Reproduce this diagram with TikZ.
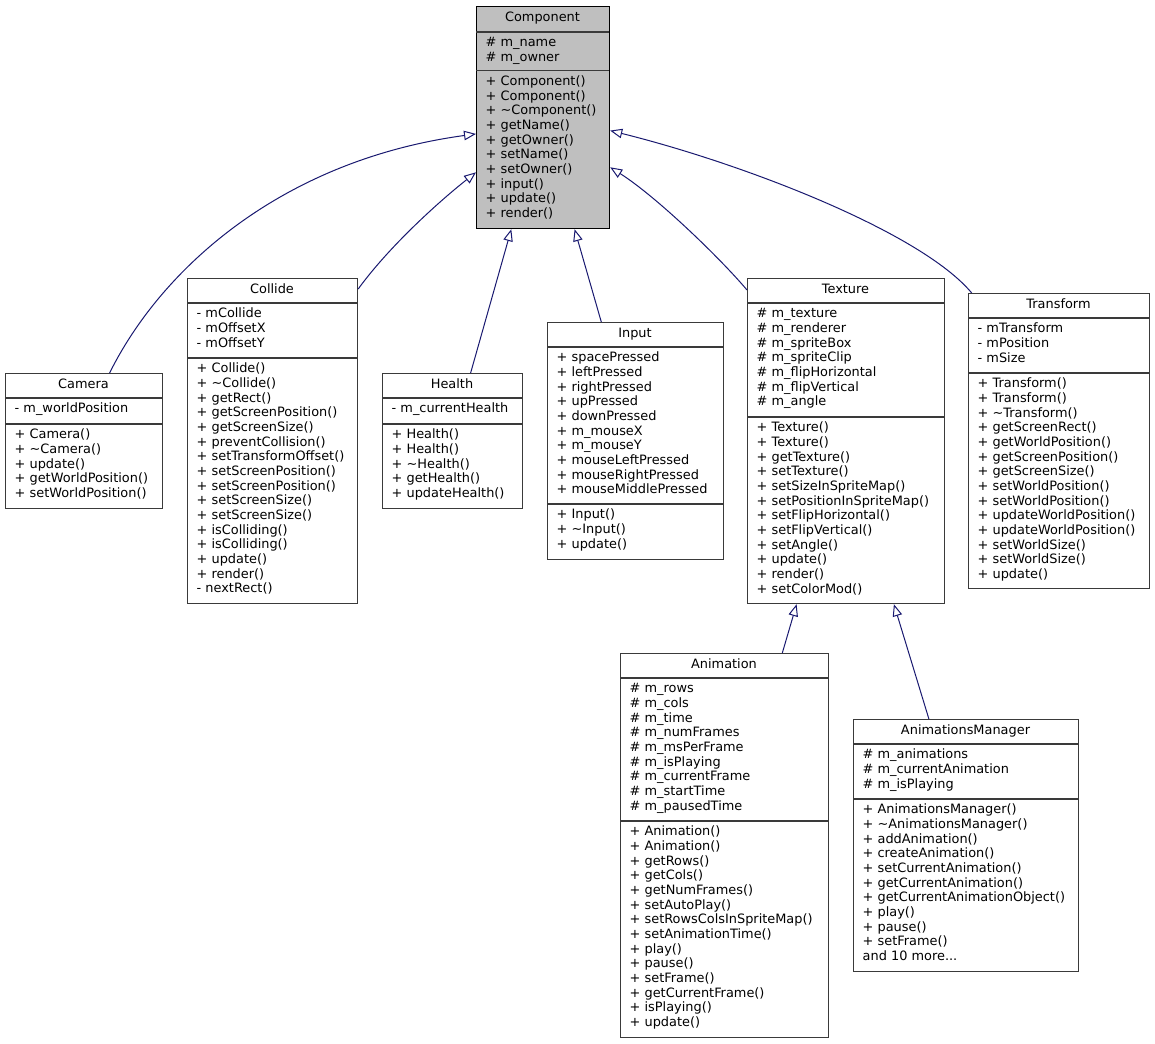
\documentclass[tikz,border=0pt]{standalone}
\usepackage{fontspec}
\setmainfont{DejaVu Sans}
\usetikzlibrary{arrows.meta}
\definecolor{edgeblue}{HTML}{191970}
\definecolor{boxline}{HTML}{3A3A3A}
\definecolor{compfill}{HTML}{BFBFBF}
\tikzset{
  classbox/.style={draw=boxline, line width=1.2pt, fill=white, inner sep=0pt, anchor=north west},
  sepline/.style={draw=boxline, line width=1.2pt},
  titletext/.style={anchor=base, inner sep=0pt, font=\fontsize{12.9}{14.67}\selectfont},
  sectext/.style={anchor=north west, inner sep=0pt, align=left, font=\fontsize{12.9}{14.67}\selectfont},
  inherit/.style={draw=edgeblue, line width=1pt, -{Triangle[open, length=12pt, width=9.5pt]}}
}
% #1 extra style, #2 name, #3 x1, #4 y1, #5 x2, #6 y2, #7 sep1, #8 sep2, #9 title
\newcommand{\umlbox}[9]{%
  \node[classbox,#1,minimum width={#5-#3}, minimum height={#6-#4}] (#2) at (#3,#4) {};
  \draw[sepline] (#3,#7) -- (#5,#7);
  \draw[sepline] (#3,#8) -- (#5,#8);
  \node[titletext] (#2-title) at ({(#3+#5)/2},{#4+15.8}) {#9};
}
% #1 name, #2 x1, #3 sep y, #4 lines
\newcommand{\umlsec}[4]{\node[sectext] (#1) at ({#2+9.5},{#3+4.4}) {\strut #4};}
\begin{document}
\begin{tikzpicture}[x=1pt,y=-1pt]
\fill[white] (0,0) rectangle (1155,1043);
\useasboundingbox (0,0) rectangle (1155,1043);

% Component
\umlbox{fill=compfill, draw=black}{comp}{476}{6}{609}{228}{32}{70.5}{Component}
\umlsec{comp-a}{476}{32}{\# m\_name\\\# m\_owner}
\umlsec{comp-m}{476}{70.5}{+ Component()\\+ Component()\\+ \textasciitilde Component()\\+ getName()\\+ getOwner()\\+ setName()\\+ setOwner()\\+ input()\\+ update()\\+ render()}

% Camera
\umlbox{}{camera}{5}{373}{162}{508}{398}{424}{Camera}
\umlsec{camera-a}{5}{398}{- m\_worldPosition}
\umlsec{camera-m}{5}{424}{+ Camera()\\+ \textasciitilde Camera()\\+ update()\\+ getWorldPosition()\\+ setWorldPosition()}

% Collide
\umlbox{}{collide}{187}{278}{357}{603}{303}{358}{Collide}
\umlsec{collide-a}{187}{303}{- mCollide\\- mOffsetX\\- mOffsetY}
\umlsec{collide-m}{187}{358}{+ Collide()\\+ \textasciitilde Collide()\\+ getRect()\\+ getScreenPosition()\\+ getScreenSize()\\+ preventCollision()\\+ setTransformOffset()\\+ setScreenPosition()\\+ setScreenPosition()\\+ setScreenSize()\\+ setScreenSize()\\+ isColliding()\\+ isColliding()\\+ update()\\+ render()\\- nextRect()}

% Health
\umlbox{}{health}{382}{373}{522}{508}{398}{424}{Health}
\umlsec{health-a}{382}{398}{- m\_currentHealth}
\umlsec{health-m}{382}{424}{+ Health()\\+ Health()\\+ \textasciitilde Health()\\+ getHealth()\\+ updateHealth()}

% Input
\umlbox{}{input}{547}{322}{723}{559}{347}{504}{Input}
\umlsec{input-a}{547}{347}{+ spacePressed\\+ leftPressed\\+ rightPressed\\+ upPressed\\+ downPressed\\+ m\_mouseX\\+ m\_mouseY\\+ mouseLeftPressed\\+ mouseRightPressed\\+ mouseMiddlePressed}
\umlsec{input-m}{547}{504}{+ Input()\\+ \textasciitilde Input()\\+ update()}

% Texture
\umlbox{}{texture}{747}{278}{944}{603}{303}{417}{Texture}
\umlsec{texture-a}{747}{303}{\# m\_texture\\\# m\_renderer\\\# m\_spriteBox\\\# m\_spriteClip\\\# m\_flipHorizontal\\\# m\_flipVertical\\\# m\_angle}
\umlsec{texture-m}{747}{417}{+ Texture()\\+ Texture()\\+ getTexture()\\+ setTexture()\\+ setSizeInSpriteMap()\\+ setPositionInSpriteMap()\\+ setFlipHorizontal()\\+ setFlipVertical()\\+ setAngle()\\+ update()\\+ render()\\+ setColorMod()}

% Transform
\umlbox{}{transform}{968}{293}{1149}{588}{318}{373}{Transform}
\umlsec{transform-a}{968}{318}{- mTransform\\- mPosition\\- mSize}
\umlsec{transform-m}{968}{373}{+ Transform()\\+ Transform()\\+ \textasciitilde Transform()\\+ getScreenRect()\\+ getWorldPosition()\\+ getScreenPosition()\\+ getScreenSize()\\+ setWorldPosition()\\+ setWorldPosition()\\+ updateWorldPosition()\\+ updateWorldPosition()\\+ setWorldSize()\\+ setWorldSize()\\+ update()}

% Animation
\umlbox{}{animation}{620}{653}{828}{1037}{678}{821}{Animation}
\umlsec{animation-a}{620}{678}{\# m\_rows\\\# m\_cols\\\# m\_time\\\# m\_numFrames\\\# m\_msPerFrame\\\# m\_isPlaying\\\# m\_currentFrame\\\# m\_startTime\\\# m\_pausedTime}
\umlsec{animation-m}{620}{821}{+ Animation()\\+ Animation()\\+ getRows()\\+ getCols()\\+ getNumFrames()\\+ setAutoPlay()\\+ setRowsColsInSpriteMap()\\+ setAnimationTime()\\+ play()\\+ pause()\\+ setFrame()\\+ getCurrentFrame()\\+ isPlaying()\\+ update()}

% AnimationsManager
\umlbox{}{am}{853}{719}{1078}{971}{744}{799}{AnimationsManager}
\umlsec{am-a}{853}{744}{\# m\_animations\\\# m\_currentAnimation\\\# m\_isPlaying}
\umlsec{am-m}{853}{799}{+ AnimationsManager()\\+ \textasciitilde AnimationsManager()\\+ addAnimation()\\+ createAnimation()\\+ setCurrentAnimation()\\+ getCurrentAnimation()\\+ getCurrentAnimationObject()\\+ play()\\+ pause()\\+ setFrame()\\and 10 more...}

% Inheritance connectors
\draw[inherit] ([xshift=25.5pt]camera.north) .. controls +(51,-103) and +(-196,26.7) .. ([yshift=-16.3pt]comp.west);
\draw[inherit] ([yshift=-11pt]collide.north east) .. controls +(30.5,-42) and +(-38,30) .. ([yshift=-54.7pt]comp.west);
\draw[inherit] ([xshift=18pt]health.north) -- ([xshift=-31.8pt]comp.south);
\draw[inherit] ([xshift=-34.3pt]input.north) -- ([xshift=31.5pt]comp.south);
\draw[inherit] ([yshift=-12pt]texture.north west) .. controls +(-27,-32) and +(46,29.1) .. ([yshift=-49.7pt]comp.east);
\draw[inherit] ([xshift=3.7pt]transform.north west) .. controls +(-50.7,-61) and +(133,33) .. ([yshift=-13pt]comp.east);
\draw[inherit] ([xshift=57.7pt]animation.north) -- ([xshift=-49.5pt]texture.south);
\draw[inherit] ([xshift=-37.2pt]am.north) -- ([xshift=47.8pt]texture.south);
\end{tikzpicture}
\end{document}
